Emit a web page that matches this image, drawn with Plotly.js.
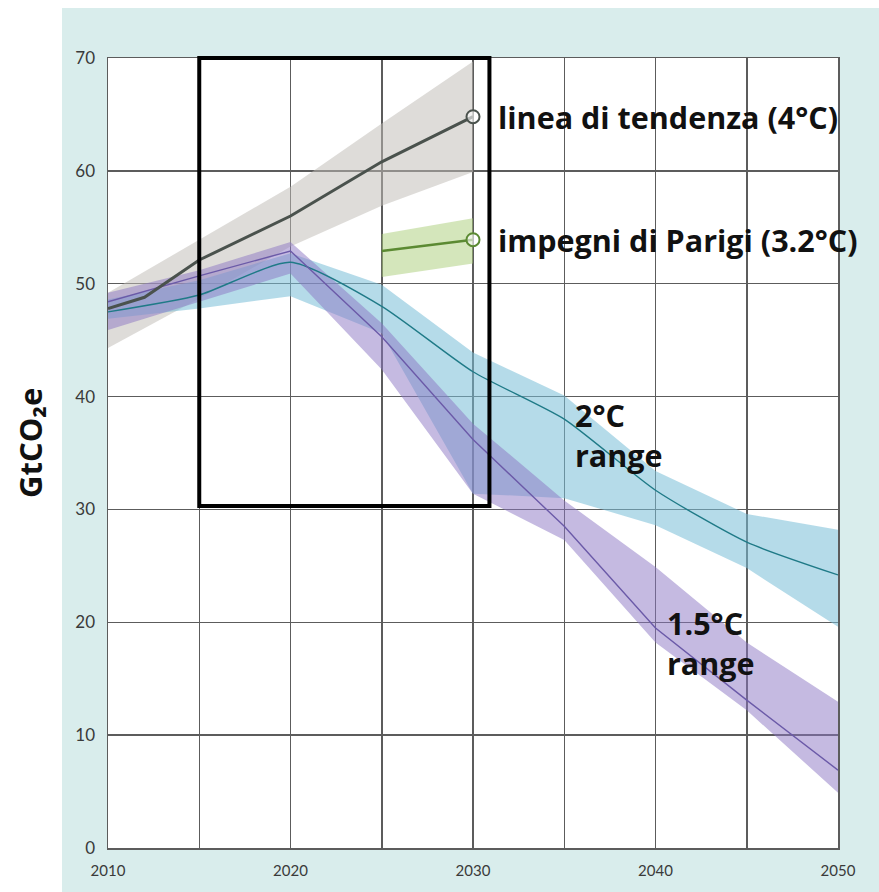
<!DOCTYPE html>
<html>
<head>
<meta charset="utf-8">
<script src="https://cdn.plot.ly/plotly-3.0.1.min.js"></script>
<style>
html,body{margin:0;padding:0;background:#ffffff;}
#wrap{position:relative;width:879px;height:892px;background:#ffffff;}
.strip{position:absolute;background:#d9edec;}
#sTop{left:62px;top:8px;width:817px;height:50px;}
#sBottom{left:62px;top:848px;width:817px;height:44px;}
#sLeft{left:62px;top:58px;width:46px;height:790px;}
#sRight{left:838px;top:58px;width:41px;height:790px;}
#chart{position:absolute;left:0;top:0;width:879px;height:892px;}
</style>
</head>
<body>
<div id="wrap">
<div class="strip" id="sTop"></div><div class="strip" id="sBottom"></div>
<div class="strip" id="sLeft"></div><div class="strip" id="sRight"></div>
<div id="chart"></div>
</div>
<script>
// ---- data ----
const trendYears = [2010, 2012, 2015, 2020, 2025, 2030];
const trendLine  = [47.8, 48.8, 52.1, 56.0, 60.8, 64.8];
const trendBandYears = [2010, 2015, 2020, 2025, 2030];
const trendUpper = [49.2, 53.9, 58.6, 64.2, 69.7];
const trendLower = [44.3, 48.7, 53.3, 56.9, 59.9];

const parisYears = [2025, 2030];
const parisLine  = [52.9, 53.9];
const parisUpper = [54.4, 55.8];
const parisLower = [50.6, 51.8];

const rangeYears = [2010, 2015, 2020, 2025, 2030, 2035, 2040, 2045, 2050];
const twoLine  = [47.5, 49.0, 51.9, 48.0, 42.2, 38.0, 31.7, 27.1, 24.2];
const twoUpper = [48.6, 50.3, 52.7, 49.9, 43.9, 40.1, 33.4, 29.6, 28.2];
const twoLower = [46.9, 47.8, 48.9, 45.6, 31.4, 31.0, 28.6, 24.8, 19.6];

const oneFiveLine  = [48.4, 50.7, 52.9, 45.3, 36.2, 28.5, 19.5, 13.1, 6.9];
const oneFiveUpper = [49.2, 51.2, 53.7, 46.5, 37.6, 30.8, 24.9, 18.2, 12.95];
const oneFiveLower = [45.9, 48.4, 50.9, 42.4, 31.4, 27.3, 18.2, 12.2, 4.9];

const xTickVals = [2010, 2015, 2020, 2025, 2030, 2035, 2040, 2045, 2050];
const xTickText = ['2010', '', '2020', '', '2030', '', '2040', '', '2050'];
const yTickVals = [0, 10, 20, 30, 40, 50, 60, 70];

const labelTrend = 'linea di tendenza (4°C)';
const labelParis = 'impegni di Parigi (3.2°C)';
const labelTwo = '2°C<br>range';
const labelOneFive = '1.5°C<br>range';
const yTitle = 'GtCO₂e';

// highlight box (years / GtCO2e)
const boxX = [2015, 2030.9];
const boxYBottom = 30.3;
const yMax = 70;

// ---- build ----
function band(xs, up, lo, color) {
  return {
    x: xs.concat(xs.slice().reverse()),
    y: up.concat(lo.slice().reverse()),
    type: 'scatter', mode: 'lines', fill: 'toself',
    fillcolor: color, line: {width: 0, color: 'rgba(0,0,0,0)'},
    hoverinfo: 'skip', showlegend: false
  };
}
function line(xs, ys, color, width, shape) {
  return {x: xs, y: ys, type: 'scatter', mode: 'lines',
    line: {color: color, width: width, shape: shape || 'linear', smoothing: 0.6},
    showlegend: false};
}
function endMarker(xs, ys, color) {
  return {x: [xs[xs.length-1]], y: [ys[ys.length-1]], type: 'scatter', mode: 'markers',
    marker: {symbol: 'circle', size: 13, color: 'rgba(255,255,255,0.6)', line: {color: color, width: 2}},
    showlegend: false};
}

const cTrend = '#4a524d', cParis = '#5b8a32', cTwo = '#1f7a87', cOne = '#6b5aa8';

const data = [
  band(trendBandYears, trendUpper, trendLower, 'rgba(192,188,182,0.52)'),
  band(rangeYears, twoUpper, twoLower, 'rgba(120,190,215,0.55)'),
  band(rangeYears, oneFiveUpper, oneFiveLower, 'rgba(140,118,196,0.5)'),
  band(parisYears, parisUpper, parisLower, 'rgba(170,205,120,0.5)'),
  line(rangeYears, twoLine, cTwo, 1.4, 'spline'),
  line(rangeYears, oneFiveLine, cOne, 1.4, 'linear'),
  line(trendYears, trendLine, cTrend, 3),
  line(parisYears, parisLine, cParis, 2.5),
  endMarker(trendYears, trendLine, cTrend),
  endMarker(parisYears, parisLine, cParis)
];

const plotL = 108, plotR = 838, plotT = 58, plotB = 848;
const pw = plotR - plotL, ph = plotB - plotT;
const annFont = {family: '"Open Sans", Lato, sans-serif', size: 30.5, color: '#111', weight: 700};

const layout = {
  width: 879, height: 892,
  margin: {l: plotL, r: 879 - plotR, t: plotT, b: 892 - plotB},
  paper_bgcolor: 'rgba(0,0,0,0)', plot_bgcolor: '#ffffff',
  showlegend: false,
  xaxis: {
    range: [2010, 2050], tickmode: 'array', tickvals: xTickVals, ticktext: xTickText,
    showgrid: true, gridcolor: '#5c5c5c', gridwidth: 1.5,
    showline: true, linecolor: '#5c5c5c', linewidth: 1.5, mirror: true,
    zeroline: false, ticks: '', ticklabelstandoff: 8,
    tickfont: {family: 'Lato, sans-serif', size: 15, color: '#3a3a3a'}
  },
  yaxis: {
    range: [0, yMax], tickmode: 'array', tickvals: yTickVals,
    showgrid: true, gridcolor: '#5c5c5c', gridwidth: 1.5,
    showline: true, linecolor: '#5c5c5c', linewidth: 1.5, mirror: true,
    zeroline: false, ticks: '', ticklabelstandoff: 8,
    tickfont: {family: 'Lato, sans-serif', size: 17, color: '#3a3a3a'}
  },
  shapes: [
    {type: 'rect', xref: 'x', yref: 'paper', layer: 'above',
     x0: boxX[0], x1: boxX[1], y0: boxYBottom / yMax, y1: 1,
     fillcolor: 'rgba(0,0,0,0)', line: {color: '#000', width: 4}}
  ],
  annotations: [
    {xref: 'x', yref: 'y', x: trendYears[trendYears.length-1], y: trendLine[trendLine.length-1],
     xanchor: 'left', yanchor: 'middle', xshift: 23, showarrow: false, text: labelTrend, font: annFont},
    {xref: 'x', yref: 'y', x: parisYears[parisYears.length-1], y: parisLine[parisLine.length-1],
     xanchor: 'left', yanchor: 'middle', xshift: 23, showarrow: false, text: labelParis, font: annFont},
    {xref: 'x', yref: 'y', x: 2035.5, y: 36.6, xanchor: 'left', yanchor: 'middle', align: 'left',
     showarrow: false, text: labelTwo, font: annFont},
    {xref: 'x', yref: 'y', x: 2040.5, y: 18.2, xanchor: 'left', yanchor: 'middle', align: 'left',
     showarrow: false, text: labelOneFive, font: annFont},
    {xref: 'paper', yref: 'paper', x: (30 - plotL) / pw, y: (plotB - 443) / ph,
     xanchor: 'center', yanchor: 'middle', textangle: -90, showarrow: false,
     text: yTitle, font: {family: '"Open Sans", Lato, sans-serif', size: 31, color: '#111', weight: 700}}
  ]
};

Plotly.newPlot('chart', data, layout, {staticPlot: true, displayModeBar: false});
</script>
</body>
</html>
